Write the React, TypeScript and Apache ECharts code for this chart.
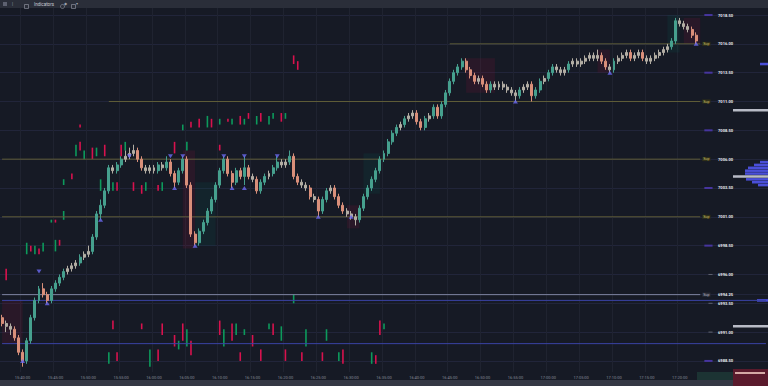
import React, { useEffect, useRef } from 'react';
import * as echarts from 'echarts';

// ---------- data ----------
const timeLabels = ['15:40:00','15:45:00','15:50:00','15:55:00','16:00:00','16:05:00','16:10:00','16:15:00','16:20:00','16:25:00','16:30:00','16:35:00','16:40:00','16:45:00','16:50:00','16:55:00','17:00:00','17:05:00','17:10:00','17:15:00','17:20:00'];
const barCount = 187;          // bar slots on the axis (candles + empty right margin)
const firstLabelBar = 5;       // bar slot of first time label
const barsPerLabel = 8;        // bars between two time labels

// [open, close, low, high]
const ohlc: number[][] = [
  [6992.25,6991.75,6991.5,6992.5],[6991.75,6991.5,6991.0,6992.0],[6991.5,6991.25,6990.75,6991.75],[6991.25,6990.5,6990.25,6991.5],[6990.5,6989.25,6989.0,6990.75],
  [6989.25,6988.5,6988.0,6989.5],[6988.5,6990.25,6988.25,6990.5],[6990.25,6992.25,6990.0,6992.5],[6992.25,6993.75,6992.0,6994.0],[6993.75,6994.75,6993.5,6995.0],
  [6994.75,6994.25,6994.0,6995.25],[6994.25,6993.75,6993.5,6994.5],[6993.75,6994.75,6993.5,6995.0],[6994.75,6995.25,6994.5,6995.5],[6995.25,6995.75,6995.0,6996.0],
  [6995.75,6996.25,6995.5,6996.5],[6996.25,6996.5,6996.0,6996.75],[6996.5,6996.75,6996.25,6997.0],[6996.75,6997.0,6996.5,6997.25],[6997.0,6997.5,6996.75,6997.75],
  [6997.5,6997.75,6997.25,6998.0],[6997.75,6998.0,6997.5,6998.5],[6998.0,6999.25,6997.75,6999.5],[6999.25,7001.25,6999.0,7001.5],[7001.25,7002.0,7000.75,7002.5],
  [7002.0,7003.25,7001.75,7003.5],[7003.25,7005.25,7003.0,7005.5],[7005.25,7005.0,7004.75,7005.5],[7005.0,7005.5,7004.75,7005.75],[7005.5,7006.0,7005.25,7006.25],
  [7006.0,7006.25,7005.75,7006.75],[7006.25,7006.5,7006.0,7007.0],[7006.5,7006.75,7006.25,7007.25],[7006.75,7006.0,7005.75,7007.0],[7006.0,7005.25,7005.0,7006.25],
  [7005.25,7005.0,7004.75,7005.5],[7005.0,7005.25,7004.75,7005.5],[7005.25,7005.0,7004.75,7005.5],[7005.0,7005.5,7004.75,7005.75],[7005.5,7005.25,7005.0,7005.75],
  [7005.25,7005.75,7005.0,7006.25],[7005.75,7004.75,7004.5,7006.0],[7004.75,7004.0,7003.5,7005.0],[7004.0,7005.0,7003.75,7005.25],[7005.0,7006.0,7004.75,7006.25],
  [7006.0,7003.75,7003.5,7006.25],[7003.75,6999.5,6999.25,7004.0],[6999.5,6998.75,6998.5,6999.75],[6998.75,6999.75,6998.5,7000.0],[6999.75,7000.5,6999.5,7000.75],
  [7000.5,7001.5,7000.25,7001.75],[7001.5,7002.5,7001.25,7002.75],[7002.5,7003.75,7002.25,7004.0],[7003.75,7005.0,7003.5,7005.25],[7005.0,7006.0,7004.75,7006.25],
  [7006.0,7004.75,7004.5,7006.25],[7004.75,7004.0,7003.5,7005.0],[7004.0,7005.0,7003.75,7005.25],[7005.0,7004.5,7004.25,7005.25],[7004.5,7005.25,7003.75,7006.25],
  [7005.25,7004.5,7004.25,7005.5],[7004.5,7004.25,7004.0,7004.75],[7004.25,7003.25,7003.0,7004.5],[7003.25,7004.0,7003.0,7004.25],[7004.0,7004.5,7003.75,7004.75],
  [7004.5,7004.75,7004.25,7005.0],[7004.75,7005.25,7004.5,7005.5],[7005.25,7005.75,7005.0,7006.25],[7005.75,7005.5,7005.25,7006.0],[7005.5,7005.75,7005.25,7006.0],
  [7005.75,7006.25,7005.5,7006.75],[7006.25,7004.5,7004.25,7006.5],[7004.5,7004.0,7003.75,7004.75],[7004.0,7003.75,7003.5,7004.25],[7003.75,7003.5,7003.25,7004.0],
  [7003.5,7002.75,7002.5,7003.75],[7002.75,7002.5,7002.25,7003.0],[7002.5,7001.5,7001.0,7002.75],[7001.5,7002.5,7001.25,7002.75],[7002.5,7003.25,7002.25,7003.5],
  [7003.25,7003.5,7003.0,7003.75],[7003.5,7002.75,7002.5,7003.75],[7002.75,7002.0,7001.75,7003.0],[7002.0,7001.5,7001.25,7002.25],[7001.5,7001.25,7001.0,7001.75],
  [7001.25,7001.0,7000.75,7001.5],[7001.0,7000.75,7000.25,7001.25],[7000.75,7001.75,7000.5,7002.0],[7001.75,7002.75,7001.5,7003.0],[7002.75,7003.5,7002.5,7003.75],
  [7003.5,7004.25,7003.25,7004.5],[7004.25,7005.0,7004.0,7005.25],[7005.0,7006.0,7004.75,7006.25],[7006.0,7006.5,7005.75,7006.75],[7006.5,7007.5,7006.25,7007.75],
  [7007.5,7008.25,7007.25,7008.5],[7008.25,7008.75,7008.0,7009.0],[7008.75,7009.0,7008.5,7009.25],[7009.0,7009.5,7008.75,7009.75],[7009.5,7009.75,7009.25,7010.0],
  [7009.75,7010.0,7009.5,7010.25],[7010.0,7009.25,7009.0,7010.25],[7009.25,7008.75,7008.5,7009.5],[7008.75,7009.5,7008.5,7009.75],[7009.5,7009.75,7009.25,7010.0],
  [7009.75,7010.5,7009.5,7010.75],[7010.5,7009.75,7009.5,7010.75],[7009.75,7010.75,7009.5,7011.0],[7010.75,7011.75,7010.5,7012.0],[7011.75,7012.75,7011.5,7013.0],
  [7012.75,7013.5,7012.5,7013.75],[7013.5,7014.0,7013.25,7014.25],[7014.0,7014.5,7013.75,7014.75],[7014.5,7013.75,7013.5,7014.75],[7013.75,7013.25,7013.0,7014.0],
  [7013.25,7012.75,7012.5,7013.5],[7012.75,7013.0,7012.5,7013.25],[7013.0,7012.5,7012.25,7013.25],[7012.5,7012.0,7011.75,7012.75],[7012.0,7012.5,7011.75,7012.75],
  [7012.5,7012.25,7012.0,7012.75],[7012.25,7012.5,7012.0,7012.75],[7012.5,7012.25,7012.0,7012.75],[7012.25,7012.0,7011.75,7012.5],[7012.0,7011.75,7011.5,7012.25],
  [7011.75,7011.5,7011.0,7012.0],[7011.5,7012.0,7011.25,7012.25],[7012.0,7012.25,7011.75,7012.5],[7012.25,7012.5,7012.0,7012.75],[7012.5,7011.5,7011.0,7012.75],
  [7011.5,7012.0,7011.25,7012.25],[7012.0,7012.75,7011.75,7013.0],[7012.75,7013.0,7012.5,7013.25],[7013.0,7013.5,7012.75,7013.75],[7013.5,7014.0,7013.25,7014.25],
  [7014.0,7013.75,7013.5,7014.25],[7013.75,7013.5,7013.25,7014.0],[7013.5,7013.75,7013.25,7014.0],[7013.75,7014.25,7013.5,7014.5],[7014.25,7014.5,7014.0,7014.75],
  [7014.5,7014.25,7014.0,7014.75],[7014.25,7014.5,7014.0,7014.75],[7014.5,7014.75,7014.25,7015.0],[7014.75,7015.0,7014.5,7015.25],[7015.0,7014.75,7014.5,7015.25],
  [7014.75,7015.0,7014.5,7015.5],[7015.0,7014.5,7014.25,7015.25],[7014.5,7014.0,7013.75,7014.75],[7014.0,7013.75,7013.5,7014.25],[7013.75,7014.5,7013.5,7014.75],
  [7014.5,7014.75,7014.25,7015.0],[7014.75,7015.0,7014.5,7015.25],[7015.0,7015.25,7014.75,7015.5],[7015.25,7014.75,7014.5,7015.5],[7014.75,7015.0,7014.5,7015.25],
  [7015.0,7015.25,7014.75,7015.5],[7015.25,7014.75,7014.5,7015.5],[7014.75,7014.5,7014.25,7015.0],[7014.5,7014.75,7014.25,7015.0],[7014.75,7015.0,7014.5,7015.25],
  [7015.0,7015.25,7014.75,7015.5],[7015.25,7015.5,7015.0,7015.75],[7015.5,7015.75,7015.25,7016.0],[7015.75,7016.25,7015.5,7016.5],[7016.25,7018.0,7016.0,7018.25],
  [7018.0,7017.75,7017.5,7018.25],[7017.75,7017.5,7017.25,7018.0],[7017.5,7017.25,7017.0,7017.75],[7017.25,7016.75,7016.5,7017.5],[7016.75,7016.25,7016.0,7017.0],
];

// scattered background bars [bar, low, high, up(1)/down(0)]
const overlayBars: number[][] = [
  [71,7014.25,7015.0,0],[72,7013.75,7014.5,0],[44,7008.5,7009.0,1],[46,7008.75,7009.25,0],[48,7008.75,7009.5,0],[50,7008.75,7009.75,1],
  [51,7008.75,7009.5,0],[53,7009.0,7009.5,1],[55,7009.25,7009.5,0],[56,7009.0,7009.5,1],[58,7009.0,7009.75,0],[59,7009.0,7009.5,1],
  [60,7009.5,7010.0,0],[62,7009.0,7009.75,1],[63,7009.25,7010.0,0],[65,7009.0,7009.75,1],[66,7009.5,7010.0,1],[68,7009.25,7010.0,0],
  [69,7009.5,7010.0,1],[19,7008.75,7009.0,0],[18,7006.25,7007.25,1],[19,7006.75,7007.5,0],[20,7006.0,7006.75,1],[22,7006.0,7007.0,0],
  [23,7006.25,7007.0,1],[25,7006.25,7007.25,0],[29,7006.25,7007.25,0],[30,7006.75,7007.5,1],[42,7006.5,7007.5,0],[45,7006.75,7007.5,1],
  [53,7006.75,7007.25,0],[15,7003.75,7004.25,1],[17,7004.25,7004.75,0],[24,7003.25,7004.25,1],[27,7003.25,7004.0,1],[28,7003.25,7004.0,0],
  [32,7003.25,7004.0,0],[34,7003.0,7003.75,0],[35,7003.25,7004.0,1],[38,7003.25,7003.75,0],[39,7003.25,7004.0,1],[12,7000.5,7000.75,1],
  [13,7000.5,7000.75,0],[15,7000.75,7001.5,1],[6,6997.75,6998.75,1],[7,6998.0,6998.5,0],[8,6997.75,6998.5,1],[9,6997.75,6998.25,0],
  [10,6998.0,6998.75,1],[13,6998.0,6999.0,1],[14,6998.5,6999.0,0],[1,6995.5,6996.5,0],[71,6993.5,6994.25,1],
  [26,6988.25,6989.25,1],[28,6988.5,6989.25,0],[36,6988.0,6989.5,1],[38,6988.5,6989.5,0],[39,6990.75,6991.75,0],[42,6989.75,6990.75,0],
  [43,6989.5,6990.25,1],[44,6990.25,6991.75,0],[45,6989.75,6991.25,1],[46,6989.0,6990.25,0],[53,6990.75,6992.0,0],[54,6989.75,6991.25,1],
  [56,6990.25,6991.75,0],[57,6990.75,6991.75,1],[58,6988.5,6989.25,0],[59,6990.75,6991.25,1],[61,6989.75,6990.75,0],[63,6988.5,6989.5,0],
  [65,6991.25,6991.75,1],[66,6990.75,6991.75,0],[68,6990.25,6991.5,1],[69,6988.5,6989.5,0],[73,6988.5,6989.25,0],[74,6989.75,6991.25,1],
  [78,6988.5,6989.25,0],[79,6990.25,6991.25,1],[82,6988.5,6989.25,1],[83,6988.25,6989.5,0],[90,6988.25,6989.25,1],[91,6988.25,6989.0,0],
  [92,6990.75,6992.0,0],[93,6991.25,6991.75,1],[27,6991.25,6992.0,0],[34,6991.25,6991.75,0],
];

// shaded zones [fromBar, toBar, low, high, up(1)/down(0)]
const zones: number[][] = [
  [0,5,6990.0,6993.75,0],[44,47,6998.25,7006.75,0],[47,52,6998.5,7004.0,1],[84,87,7000.0,7002.0,0],[88,92,7003.0,7006.5,1],
  [113,120,7011.75,7014.75,0],[145,148,7013.5,7015.5,0],[162,165,7015.25,7018.5,1],[166,170,7016.0,7018.25,0],
];

// level-touch markers [bar, price]
const highMarks: number[][] = [[9,6996.25],[31,7006.25],[41,7006.25],[44,7006.25],[54,7006.25],[59,7006.25],[67,7006.25]];
const lowMarks: number[][] = [[5,6988.5],[11,6993.5],[24,7000.75],[42,7003.5],[47,6998.5],[56,7003.5],[59,7003.5],[77,7001.0],[85,7001.0],[125,7011.0],[148,7013.5],[169,7016.0]];

// price scale labels
const priceTicks = [6988.5,6991.0,6993.5,6994.25,6996.0,6998.5,7001.0,7003.5,7006.0,7008.5,7011.0,7013.5,7016.0,7018.5];
// support levels [price, fromBar]
const supportLevels: number[][] = [[7016.0,109],[7011.0,26],[7006.0,0],[7001.0,0]];
const greyLevel = 6994.25;
const blueLevels = [6993.75, 6990.0];
const purpleTags = [7018.5,7013.5,7008.5,7003.5,6998.5,6988.5];
const dashTags = [6996.0,6993.5,6991.0];

// volume profile on the right [price, length, kind(0 blue,1 grey)]
const profile: number[][] = [
  [7014.25,8,0],[7010.25,35,1],[7005.75,8,0],[7005.5,14,0],[7005.25,20,0],[7005.0,23,0],[7004.75,23,0],[7004.5,35,1],
  [7004.25,22,0],[7004.0,16,0],[7003.75,10,0],[6993.75,11,0],[6991.5,35,1],
];

const Y_MIN = 6987.54;
const Y_MAX = 7019.11;

const UP = '#46a08e';
const DOWN = '#d98f7a';
const FLAT = '#b3aea4';

export default function App() {
  const ref = useRef<HTMLDivElement>(null);
  useEffect(() => {
    if (!ref.current) return;
    const chart = echarts.init(ref.current, undefined, { renderer: 'svg' });
    const cats = Array.from({ length: barCount }, (_, i) => 'b' + i);
    const isLabel = (i: number) => i >= firstLabelBar && (i - firstLabelBar) % barsPerLabel === 0 && (i - firstLabelBar) / barsPerLabel < timeLabels.length;

    const candleData = ohlc.map(([o, c, l, h]) => {
      const flat = Math.abs(c - o) <= 0.25;
      const col = flat ? FLAT : c >= o ? UP : DOWN;
      return { value: [o, c, l, h], itemStyle: { color: col, color0: col, borderColor: col, borderColor0: col } };
    });

    const seg = (from: number, to: number, p: number, color: string, width: number, tag?: any) => ({
      type: 'line', xAxisIndex: 0, yAxisIndex: 0, z: 2, silent: true, showSymbol: false, symbol: 'none',
      data: [[from, p], [to, p]],
      lineStyle: { color, width, type: 'solid' },
      itemStyle: { color },
      emphasis: { disabled: true },
      endLabel: tag ? { show: true, distance: 2, formatter: tag.text, fontSize: 3.5, color: tag.color, backgroundColor: tag.bg, padding: [0, 1] } : { show: false },
    });

    const levelSeries: any[] = [];
    supportLevels.forEach(([p, from]) => levelSeries.push(seg(from, ohlc.length, p, '#5e5c37', 1, { text: 'Sup', color: '#cfc66a', bg: '#303019' })));
    levelSeries.push(seg(0, ohlc.length, greyLevel, '#7d84a0', 1, { text: 'Sup', color: '#b8bcc8', bg: '#2c2f3a' }));
    blueLevels.forEach((p) => levelSeries.push(seg(0, barCount - 1, p, '#3a43a4', 1)));
    purpleTags.forEach((p) => levelSeries.push(seg(ohlc.length + 1, ohlc.length + 3, p, '#46359e', 2)));
    dashTags.forEach((p) => levelSeries.push(seg(ohlc.length + 2, ohlc.length + 3, p, '#5f6370', 1)));

    const markAreaData = zones.map(([s, e, lo, hi, up]) => [
      { coord: [s, hi], itemStyle: { color: up ? 'rgba(0,110,90,0.13)' : 'rgba(120,20,55,0.2)' } },
      { coord: [e, lo] },
    ]);

    const option: any = {
      animation: false,
      backgroundColor: '#161a25',
      grid: [
        { left: 0, right: 0, top: 8, bottom: 14 },
        { left: 733, right: 0, top: 8, bottom: 14 },
      ],
      xAxis: [
        {
          type: 'category', gridIndex: 0, data: cats, boundaryGap: true,
          axisLine: { show: false }, axisTick: { show: false },
          axisLabel: {
            interval: (i: number) => isLabel(i),
            formatter: (_v: string, i: number) => (isLabel(i) ? timeLabels[(i - firstLabelBar) / barsPerLabel] : ''),
            color: '#858a97', fontSize: 4, margin: 3, fontFamily: 'Roboto',
          },
          splitLine: { show: true, interval: (i: number) => isLabel(i), lineStyle: { color: '#1f2330', width: 1 } },
        },
        { type: 'value', gridIndex: 1, min: 0, max: 35, inverse: true, show: false },
      ],
      yAxis: [
        {
          type: 'value', gridIndex: 0, position: 'right', min: Y_MIN, max: Y_MAX,
          axisLine: { show: false },
          axisTick: { show: false, customValues: priceTicks },
          axisLabel: {
            customValues: priceTicks, inside: true, margin: 35, fontSize: 4, fontWeight: 'bold',
            color: '#e6e8ee', fontFamily: 'Roboto', formatter: (v: number) => v.toFixed(2),
          },
          splitLine: { show: true, lineStyle: { color: '#21253a', width: 1 } },
        },
        { type: 'value', gridIndex: 1, min: Y_MIN, max: Y_MAX, show: false },
      ],
      series: [
        {
          type: 'custom', name: 'overlay', xAxisIndex: 0, yAxisIndex: 0, z: 1, clip: true,
          data: overlayBars,
          renderItem: (_p: any, api: any) => {
            const top = api.coord([api.value(0), api.value(2)]);
            const bot = api.coord([api.value(0), api.value(1)]);
            return {
              type: 'rect',
              shape: { x: top[0] - 0.8, y: top[1], width: 1.6, height: Math.max(1, bot[1] - top[1]) },
              style: { fill: api.value(3) ? '#0d9a5c' : '#d8124e' },
            };
          },
        },
        ...levelSeries,
        {
          type: 'candlestick', name: 'price', xAxisIndex: 0, yAxisIndex: 0, z: 3,
          barWidth: '60%', data: candleData,
          markArea: { silent: true, data: markAreaData },
        },
        {
          type: 'scatter', name: 'highs', xAxisIndex: 0, yAxisIndex: 0, z: 5, data: highMarks,
          symbol: 'triangle', symbolRotate: 180, symbolSize: [5, 4], itemStyle: { color: '#6c6af2' },
        },
        {
          type: 'scatter', name: 'lows', xAxisIndex: 0, yAxisIndex: 0, z: 5, data: lowMarks,
          symbol: 'triangle', symbolSize: [5, 4], itemStyle: { color: '#6c6af2' },
        },
        {
          type: 'custom', name: 'profile', xAxisIndex: 1, yAxisIndex: 1, z: 2, data: profile,
          renderItem: (_p: any, api: any) => {
            const a = api.coord([api.value(1), api.value(0) + 0.11]);
            const b = api.coord([0, api.value(0) - 0.11]);
            return {
              type: 'rect',
              shape: { x: Math.min(a[0], b[0]), y: a[1], width: Math.abs(b[0] - a[0]), height: Math.max(1, b[1] - a[1]) },
              style: { fill: api.value(2) ? '#b8bbc6' : '#4a4fd8' },
            };
          },
        },
      ],
      graphic: [
        { type: 'rect', left: 0, top: 0, shape: { width: 768, height: 8 }, style: { fill: '#2a2e39' }, z: 10 },
        { type: 'rect', left: 3, top: 2, shape: { width: 4, height: 4 }, style: { fill: '#5d6170' }, z: 11 },
        { type: 'text', left: 12, top: 1.5, style: { text: '|', fontSize: 4, fill: '#9ca0ab' }, z: 11 },
        { type: 'rect', left: 22, top: 2, shape: { width: 4, height: 4 }, style: { fill: 'none', stroke: '#9ca0ab', lineWidth: 0.6 }, z: 11 },
        { type: 'text', left: 34, top: 2, style: { text: 'Indicators', fontSize: 4.5, fill: '#c9ccd6', fontFamily: 'Roboto' }, z: 11 },
        { type: 'circle', left: 58, top: 2, shape: { r: 2 }, style: { fill: 'none', stroke: '#9ca0ab', lineWidth: 0.6 }, z: 11 },
        { type: 'text', left: 64, top: 1.5, style: { text: '◆', fontSize: 4, fill: '#9ca0ab' }, z: 11 },
        { type: 'rect', left: 69, top: 2, shape: { width: 4, height: 4 }, style: { fill: 'none', stroke: '#9ca0ab', lineWidth: 0.6 }, z: 11 },
        { type: 'text', left: 76, top: 1.5, style: { text: '▾', fontSize: 4, fill: '#9ca0ab' }, z: 11 },
        { type: 'rect', left: 0, top: 380, shape: { width: 768, height: 6 }, style: { fill: '#343844' }, z: 10 },
        { type: 'rect', left: 697, top: 372, shape: { width: 36, height: 8 }, style: { fill: '#1c3333' }, z: 10 },
        { type: 'rect', left: 733, top: 369, shape: { width: 35, height: 17 }, style: { fill: '#5a1a2c' }, z: 10 },
        { type: 'rect', left: 735, top: 372, shape: { width: 30, height: 2 }, style: { fill: '#d4a9a5' }, z: 11 },
      ],
    };
    chart.setOption(option);
    return () => chart.dispose();
  }, []);
  return <div ref={ref} style={{ position: 'absolute', left: 0, top: 0, width: 768, height: 386 }} />;
}
